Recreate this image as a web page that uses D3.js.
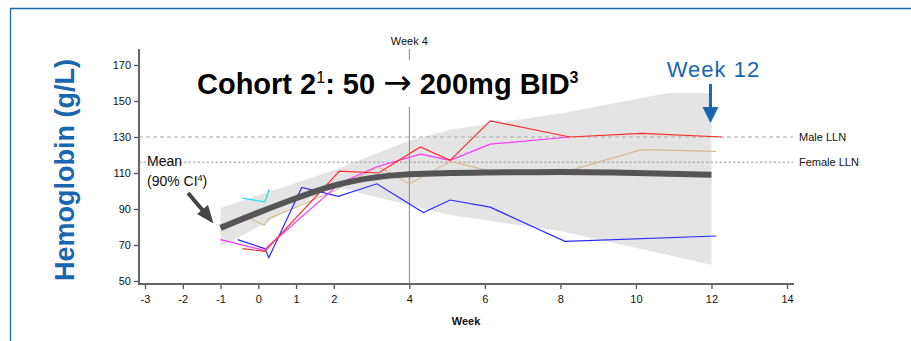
<!DOCTYPE html>
<html><head><meta charset="utf-8">
<script src="https://cdn.jsdelivr.net/npm/d3@7"></script>
<style>
html,body{margin:0;padding:0;background:#fff;}
svg{display:block;font-family:Arial,"Liberation Sans",sans-serif;}
</style></head>
<body><svg id="c" width="911" height="341"></svg>
<script>
// ---- data ----
const xTicks = [-3,-2,-1,0,1,2,4,6,8,10,12,14];
const yTicks = [50,70,90,110,130,150,170];
const maleLLN = 130;
const femaleLLN = 116;
const bandTop = [[-1,90.5],[2,111.5],[4,128],[5.1,134],[8,143],[10.85,154.5],[12,154.5]];
const bandBottom = [[-1,69],[2,102.5],[5.1,86.5],[8,77.8],[12,59]];
const meanSeries = [[-1,79.5],[0,88],[1,96],[2,103],[3,107.3],[4,109.3],[6,110.3],[8,110.5],[10,110],[12,109]];
const blueSeries = [[-0.55,73],[0.17,68],[0.28,63],[1.15,102],[2.12,97],[3.14,104],[4.37,88],[5.08,95],[6.14,91],[8.12,72],[12.13,75]];
const redSeries = [[-0.42,68],[0.17,66.5],[2.15,111],[3.18,110],[4.29,124.5],[5.08,117],[6.14,139],[8.25,130],[10.15,132],[12.27,130]];
const magentaSeries = [[-1,73],[0.15,67],[0.3,70],[2.17,104.5],[3.14,113.5],[4.3,120.5],[5.08,117],[6.14,126],[8.25,130]];
const tanSeries = [[-0.42,87],[0.15,81],[0.3,85],[1,91],[2,100],[3.17,113.5],[4,104],[5.1,116.5],[6.14,111],[8.1,110.5],[10.15,123],[12.13,122]];
const cyanSeries = [[-0.42,96],[0.17,94],[0.29,101]];
const seriesColors = {blue:"#2a2aff", red:"#ff2a2a", magenta:"#ff33ff", tan:"#d8b890", cyan:"#22e0e8"};

const svg = d3.select("#c");
const x = d3.scaleLinear().domain([-3,14]).range([145,787]);
const y = d3.scaleLinear().domain([50,170]).range([281,65]);
const blue = "#1a66b0";

// frame
svg.append("line").attr("x1",10).attr("x2",911).attr("y1",8.5).attr("y2",8.5).attr("stroke",blue).attr("stroke-width",1.3);
svg.append("line").attr("x1",10.5).attr("x2",10.5).attr("y1",8).attr("y2",341).attr("stroke",blue).attr("stroke-width",1.3);

// CI band
const bandPoly = bandTop.concat(bandBottom.slice().reverse());
svg.append("path")
  .attr("d", d3.line().x(d=>x(d[0])).y(d=>y(d[1]))(bandPoly) + "Z")
  .attr("fill","#e4e4e4");

// LLN reference lines
svg.append("line").attr("x1",139).attr("x2",793).attr("y1",y(maleLLN)).attr("y2",y(maleLLN))
  .attr("stroke","#aaa").attr("stroke-width",1).attr("stroke-dasharray","4,3");
svg.append("line").attr("x1",139).attr("x2",793).attr("y1",y(femaleLLN)).attr("y2",y(femaleLLN))
  .attr("stroke","#999").attr("stroke-width",1).attr("stroke-dasharray","2.5,2");
svg.append("text").attr("x",799).attr("y",y(maleLLN)+4).attr("font-size",11).attr("fill","#111").text("Male LLN");
svg.append("text").attr("x",799).attr("y",y(femaleLLN)+4).attr("font-size",11).attr("fill","#111").text("Female LLN");

// week 4 marker line
svg.append("line").attr("x1",x(4)).attr("x2",x(4)).attr("y1",49).attr("y2",284).attr("stroke","#888").attr("stroke-width",1);
svg.append("text").attr("x",x(4)).attr("y",45).attr("text-anchor","middle").attr("font-size",11).attr("fill","#111").text("Week 4");

// individual lines
const line = d3.line().x(d=>x(d[0])).y(d=>y(d[1]));
[["tan",tanSeries],["cyan",cyanSeries],["blue",blueSeries],["magenta",magentaSeries],["red",redSeries]].forEach(([k,s])=>{
  svg.append("path").attr("d",line(s)).attr("fill","none").attr("stroke",seriesColors[k]).attr("stroke-width",1.2);
});

// mean line
svg.append("path").attr("d", d3.line().curve(d3.curveMonotoneX).x(d=>x(d[0])).y(d=>y(d[1]))(meanSeries))
  .attr("fill","none").attr("stroke","#555").attr("stroke-width",6);

// axes
const xAxis = d3.axisBottom(x).tickValues(xTicks).tickSize(5).tickPadding(6).tickFormat(d => String(d));
const gx = svg.append("g").attr("transform","translate(0,284)").call(xAxis);
gx.select(".domain").remove();
gx.selectAll("line").attr("stroke","#555").attr("stroke-width",1.3);
gx.selectAll("text").attr("font-size",11).attr("fill","#111").attr("font-family","Arial,'Liberation Sans',sans-serif");
const yAxis = d3.axisLeft(y).tickValues(yTicks).tickSize(5).tickPadding(3).tickFormat(d => String(d));
const gy = svg.append("g").attr("transform","translate(139,0)").call(yAxis);
gy.select(".domain").remove();
gy.selectAll("line").attr("stroke","#555").attr("stroke-width",1.3);
gy.selectAll("text").attr("font-size",11).attr("fill","#111").attr("font-family","Arial,'Liberation Sans',sans-serif");
svg.append("line").attr("x1",139).attr("x2",794).attr("y1",284).attr("y2",284).attr("stroke","#666").attr("stroke-width",2);
svg.append("line").attr("x1",139).attr("x2",139).attr("y1",49).attr("y2",285).attr("stroke","#666").attr("stroke-width",2);

svg.append("text").attr("x",466).attr("y",325).attr("text-anchor","middle").attr("font-size",11).attr("font-weight","bold").attr("fill","#111").text("Week");

// y label
svg.append("text").attr("transform","translate(74,170) rotate(-90)").attr("text-anchor","middle")
  .attr("font-size",27).attr("font-weight","bold").attr("fill",blue).text("Hemoglobin (g/L)");

// title with white backing
svg.append("rect").attr("x",190).attr("y",60).attr("width",400).attr("height",47).attr("fill","#fff");
const t = svg.append("text").attr("x",197).attr("y",94).attr("font-size",29).attr("font-weight","bold").attr("fill","#000");
t.append("tspan").text("Cohort 2");
t.append("tspan").attr("font-size",16).attr("font-weight","normal").attr("dy",-11).text("1");
t.append("tspan").attr("dy",11).text(": 50 ");
t.append("tspan").attr("font-family","'DejaVu Sans',sans-serif").attr("font-weight","normal").attr("font-size",34).text("\u2192");
t.append("tspan").text(" 200mg BID");
t.append("tspan").attr("font-size",16).attr("dy",-11).text("3");

// Week 12 annotation
svg.append("text").attr("x",x(12)+2).attr("y",77).attr("text-anchor","middle").attr("font-size",22).attr("letter-spacing",1).attr("fill",blue).text("Week 12");
svg.append("line").attr("x1",x(12)-1).attr("x2",x(12)-1).attr("y1",84).attr("y2",110).attr("stroke",blue).attr("stroke-width",3);
svg.append("path").attr("d",`M${x(12)-9},107 L${x(12)+7},107 L${x(12)-1},123 Z`).attr("fill",blue);

// Mean annotation
svg.append("text").attr("x",147).attr("y",166).attr("font-size",14).attr("fill","#111").text("Mean");
const ci = svg.append("text").attr("x",147).attr("y",186).attr("font-size",14).attr("fill","#111");
ci.append("tspan").text("(90% CI");
ci.append("tspan").attr("font-size",9).attr("dy",-5).text("4");
ci.append("tspan").attr("dy",5).text(")");
svg.append("line").attr("x1",188).attr("y1",193).attr("x2",205).attr("y2",213).attr("stroke","#444").attr("stroke-width",4);
svg.append("path").attr("d","M213.5,223.5 L197,214 L208,205 Z").attr("fill","#444");
</script></body></html>
